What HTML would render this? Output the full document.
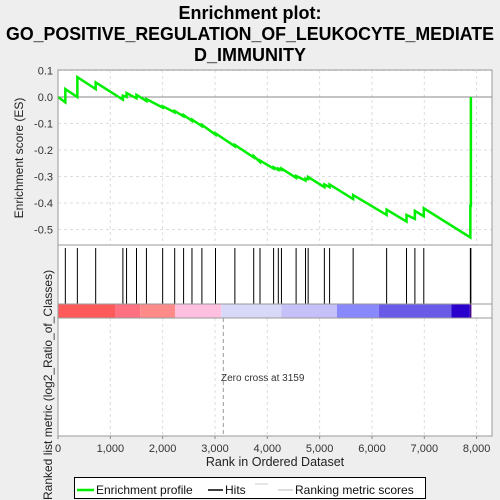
<!DOCTYPE html>
<html><head><meta charset="utf-8"><style>
body{margin:0;background:#eeeeee;}
svg{display:block;font-family:"Liberation Sans",sans-serif;}
</style></head><body>
<svg id="chart" width="500" height="500" viewBox="0 0 500 500" xmlns="http://www.w3.org/2000/svg">
<rect width="500" height="500" fill="#eeeeee"/>
<g font-weight="bold" font-size="18" text-anchor="middle" fill="#000">
<text x="250" y="19">Enrichment plot:</text>
<text x="250" y="40" textLength="488" lengthAdjust="spacingAndGlyphs">GO_POSITIVE_REGULATION_OF_LEUKOCYTE_MEDIATE</text>
<text x="250" y="61">D_IMMUNITY</text>
</g>
<rect x="58" y="70" width="434" height="366" fill="#fff"/>
<g id="grid"></g>
<g id="colorbar"></g>
<g id="hits"></g>
<g id="es"></g>
<g id="axes" font-size="11" fill="#333"></g>
<text x="221" y="381" font-size="10" fill="#333">Zero cross at 3159</text>
<text x="275" y="466" font-size="12.5" text-anchor="middle" fill="#222">Rank in Ordered Dataset</text>
<text transform="translate(23,158) rotate(-90)" font-size="12" text-anchor="middle" fill="#222">Enrichment score (ES)</text>
<text transform="translate(52,500) rotate(-90)" font-size="12" fill="#222">Ranked list metric (log2_Ratio_of_Classes)</text>
<g>
<rect x="74.5" y="477.5" width="351" height="21" fill="#fff" stroke="#000"/>
<line x1="77" y1="490" x2="94" y2="490" stroke="#00ee00" stroke-width="2.5"/>
<text x="96" y="494" font-size="12" fill="#111">Enrichment profile</text>
<line x1="208" y1="490" x2="223" y2="490" stroke="#000" stroke-width="1.5"/>
<text x="225" y="494" font-size="12" fill="#111">Hits</text>
<line x1="255" y1="484" x2="268" y2="484" stroke="#ccc"/>
<line x1="278" y1="490" x2="293" y2="490" stroke="#bbb"/>
<text x="295" y="494" font-size="12" fill="#111">Ranking metric scores</text>
</g>
</svg>
<script>
const xTicks=[0,1000,2000,3000,4000,5000,6000,7000,8000];
const xTickLabels=["0","1,000","2,000","3,000","4,000","5,000","6,000","7,000","8,000"];
const yTicks=[0.1,0.0,-0.1,-0.2,-0.3,-0.4,-0.5];
const yTickLabels=["0.1","0.0","-0.1","-0.2","-0.3","-0.4","-0.5"];
const hitRanks=[140,370,720,1240,1310,1500,1690,2000,2230,2400,2560,2750,3010,3380,3740,3860,4120,4210,4270,4550,4730,4780,5090,5190,5640,6280,6660,6820,6990,7880,7890];
const esBefore=[-0.02,0.0,0.03,-0.01,0.0,-0.005,-0.015,-0.04,-0.058,-0.073,-0.09,-0.11,-0.142,-0.186,-0.228,-0.245,-0.27,-0.275,-0.275,-0.305,-0.315,-0.31,-0.34,-0.34,-0.385,-0.445,-0.47,-0.46,-0.45,-0.53,-0.41];
const esAfter=[0.03,0.075,0.055,0.005,0.015,0.008,-0.008,-0.035,-0.053,-0.068,-0.085,-0.105,-0.137,-0.181,-0.223,-0.24,-0.265,-0.27,-0.27,-0.298,-0.308,-0.302,-0.33,-0.33,-0.37,-0.425,-0.445,-0.43,-0.42,-0.41,0.0];
const zeroCross=3159;
const colorBreaks=[0,1090,1570,2240,3120,4270,5330,6130,7520,7870,7900];
const colorFills=["#ff5a5a","#ff7080","#ff8a8a","#ffc0e0","#d8d8f8","#c6c0f8","#8888ff","#6a5ae8","#2a00cc","#4a0090"];
const NS="http://www.w3.org/2000/svg";
const X=r=>58+r*0.05233;
const Y=v=>97-v*265;
function mk(tag,attrs,parent){const e=document.createElementNS(NS,tag);for(const k in attrs)e.setAttribute(k,attrs[k]);parent.appendChild(e);return e;}
const grid=document.getElementById('grid'),axes=document.getElementById('axes');
xTicks.forEach((t,i)=>{
 [[70,245],[318,436]].forEach(([a,b])=>{const l=mk('line',{x1:X(t),x2:X(t),y1:a,y2:b,stroke:'#ddd','stroke-dasharray':'3,3'},grid);});
 const tx=mk('text',{x:X(t),y:452,'text-anchor':'middle'},axes);tx.textContent=xTickLabels[i];
 
 mk('line',{x1:X(t),x2:X(t),y1:436,y2:439,stroke:'#888'},axes);
});
yTicks.forEach((t,i)=>{
 const l=mk('line',{x1:58,x2:492,y1:Y(t),y2:Y(t),stroke:'#ddd','stroke-dasharray':'3,3'},grid);
 
 const tx=mk('text',{x:53,y:Y(t)+4,'text-anchor':'end'},axes);tx.textContent=yTickLabels[i];
 
});
mk('line',{x1:58,x2:492,y1:Y(0),y2:Y(0),stroke:'#888'},grid);
const zl=mk('line',{x1:X(zeroCross),x2:X(zeroCross),y1:318,y2:436,stroke:'#999','stroke-dasharray':'4,3'},grid);

const cb=document.getElementById('colorbar');
colorFills.forEach((c,i)=>{const r=mk('rect',{x:X(colorBreaks[i]),y:304,width:X(colorBreaks[i+1])-X(colorBreaks[i]),height:14,fill:c},cb);
 });
const hits=document.getElementById('hits');
hitRanks.forEach(r=>{const l=mk('line',{x1:X(r),x2:X(r),y1:248,y2:304,stroke:'#000','stroke-width':1},hits);
 });
let d=`M${X(0)},${Y(0)}`;
hitRanks.forEach((r,i)=>{d+=` L${X(r)},${Y(esBefore[i])} L${X(r)},${Y(esAfter[i])}`;});
const p=mk('path',{d:d,fill:'none',stroke:'#00ee00','stroke-width':2.5},document.getElementById('es'));

[[70,245],[245,304],[304,318],[318,436]].forEach(([a,b])=>{mk('rect',{x:58,y:a,width:434,height:b-a,fill:'none',stroke:'#999'},axes);});
</script>
</body></html>
